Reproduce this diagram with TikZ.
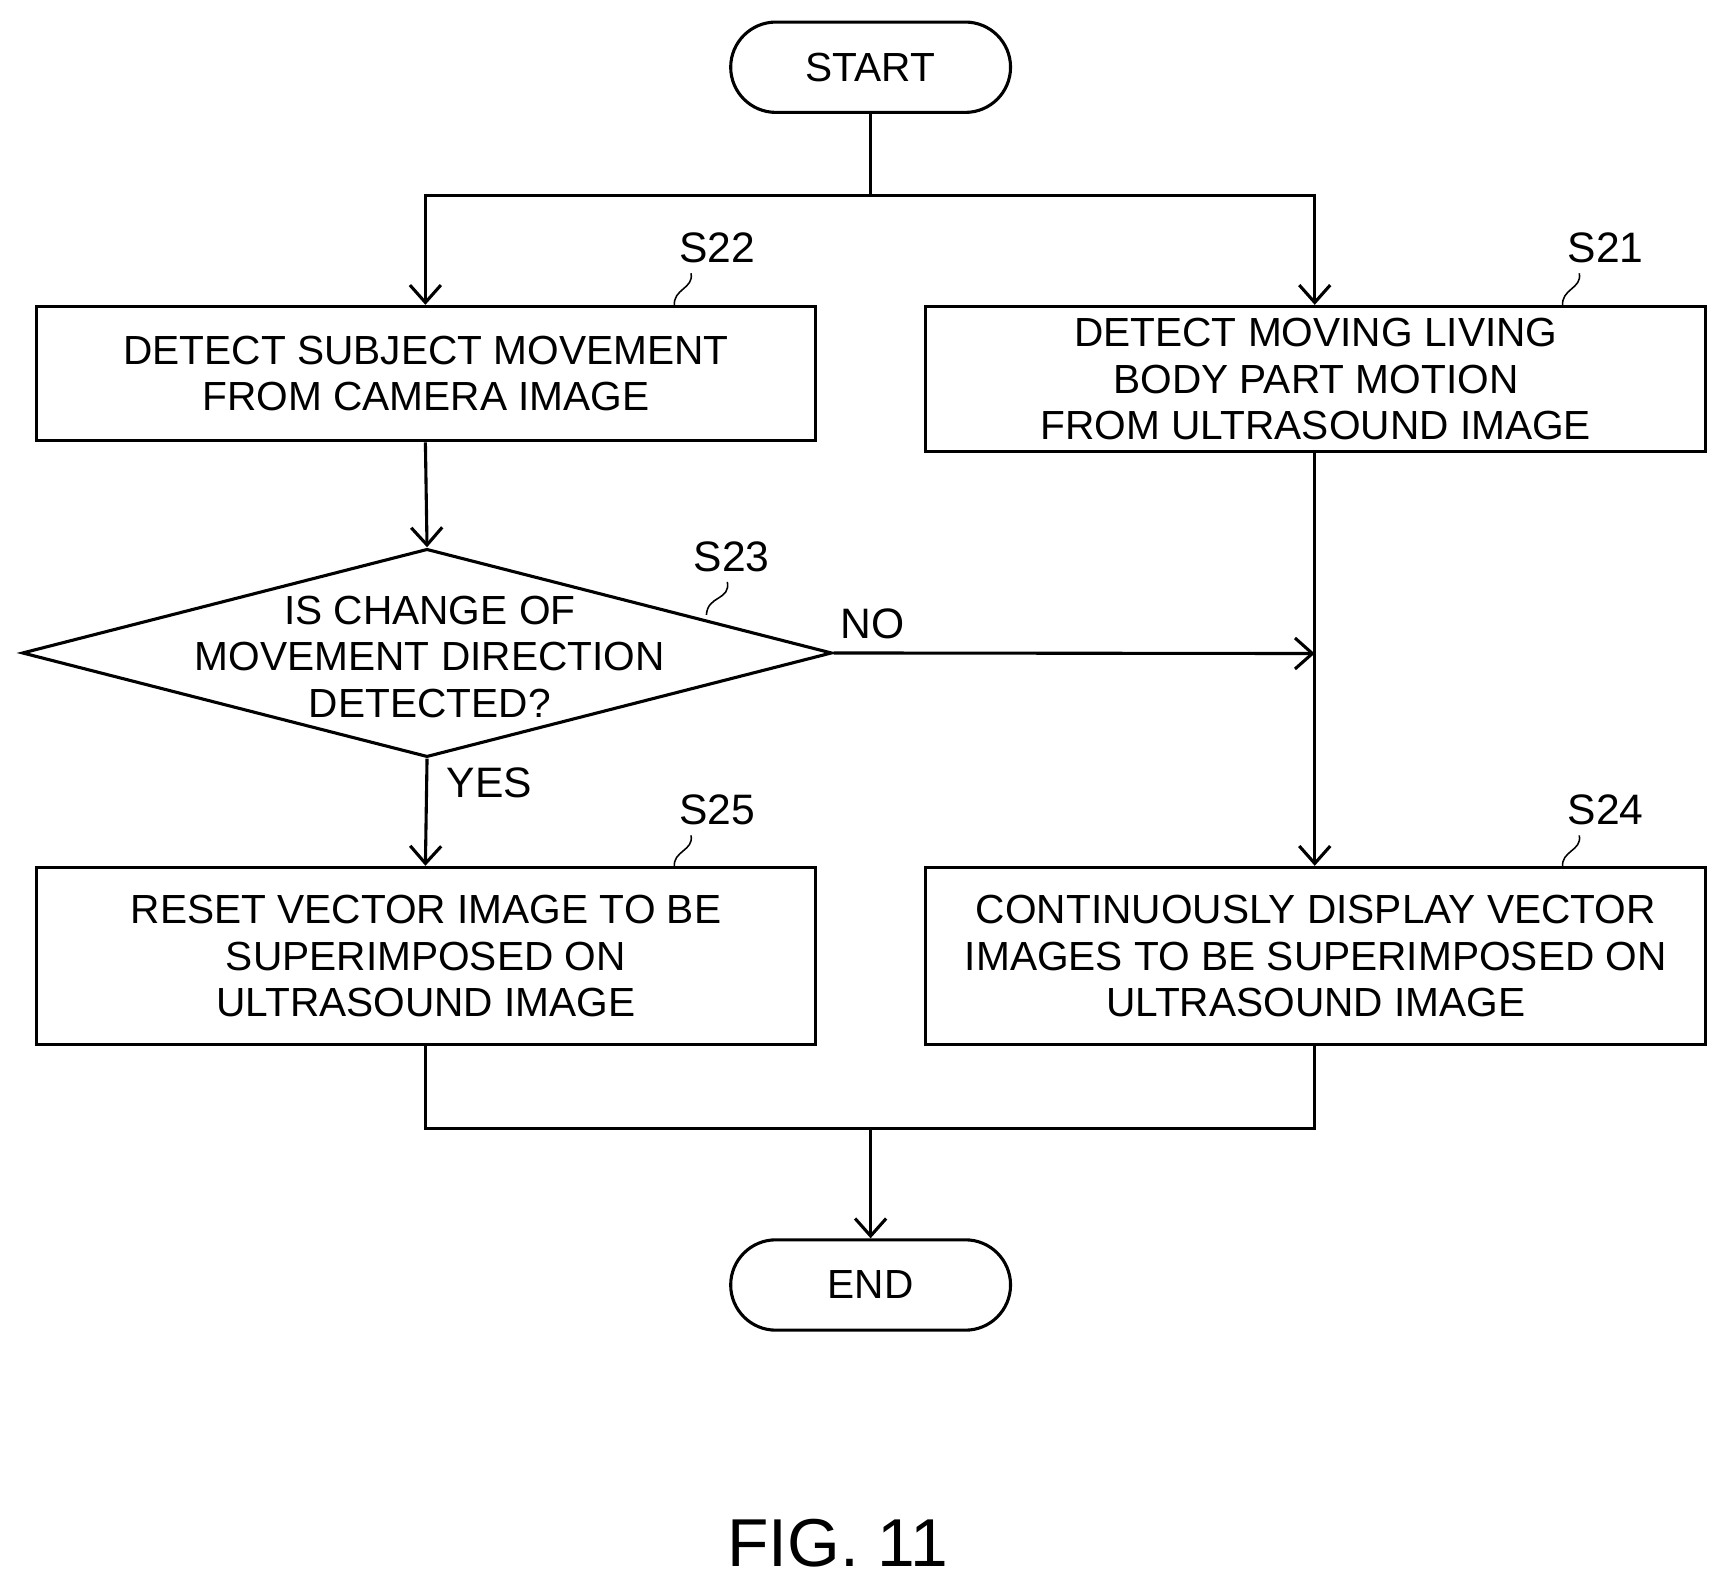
\documentclass[tikz,border=0pt]{standalone}
\usepackage{fontspec}
\setmainfont{Liberation Sans}
\usetikzlibrary{shapes.geometric,arrows.meta}
\begin{document}
\begin{tikzpicture}[x=0.02cm,y=-0.02cm,
  line width=1.6pt,
  >={Straight Barb[length=9pt,width=16pt,line width=1.6pt]},
  box/.style={draw,rectangle,inner sep=0pt,align=center,font=\fontsize{21}{24}\selectfont},
  pill/.style={draw,rectangle,rounded corners=0.82cm,minimum width=5.08cm,minimum height=1.64cm,font=\fontsize{21}{24}\selectfont},
  lab/.style={font=\fontsize{22}{24}\selectfont},
  lead/.style={line width=0.8pt}]
\useasboundingbox (0,0) rectangle (1568,1440);
\node[pill] (start) at (790,61) {START};
\node[pill] (end) at (790,1166) {END};
\node[box,minimum width=14.14cm,minimum height=2.44cm] (s22) at (386.5,339) {DETECT SUBJECT MOVEMENT\\FROM CAMERA IMAGE};
\node[box,minimum width=14.16cm,minimum height=2.64cm] (s21) at (1194,344) {DETECT MOVING LIVING\\BODY PART MOTION\\FROM ULTRASOUND IMAGE};
\node[draw,diamond,minimum width=14.7cm,minimum height=3.78cm,inner sep=0pt] (s23) at (387.5,592.5) {};
\node[box,draw=none] (s23t) at (390,596) {IS CHANGE OF\\MOVEMENT DIRECTION\\DETECTED?};
\node[box,minimum width=14.14cm,minimum height=3.22cm] (s25) at (386.5,867.5) {RESET VECTOR IMAGE TO BE\\SUPERIMPOSED ON\\ULTRASOUND IMAGE};
\node[box,minimum width=14.16cm,minimum height=3.22cm] (s24) at (1194,867.5) {CONTINUOUSLY DISPLAY VECTOR\\IMAGES TO BE SUPERIMPOSED ON\\ULTRASOUND IMAGE};
% labels
\node[lab] (l22) at (651,225) {S22};
\node[lab] (l21) at (1457,225) {S21};
\node[lab] (l23) at (664,505) {S23};
\node[lab] (l25) at (651,735) {S25};
\node[lab] (l24) at (1457,735) {S24};
\draw[lead] (627,248) .. controls (630,262) and (610,262) .. (612,278);
\draw[lead] (1433,248) .. controls (1436,262) and (1416,262) .. (1418,278);
\draw[lead] (660,528) .. controls (663,545) and (642,540) .. (641,558);
\draw[lead] (627,758) .. controls (630,772) and (610,772) .. (612,787);
\draw[lead] (1433,758) .. controls (1436,772) and (1416,772) .. (1418,787);
\node[lab] (no) at (792,566) {NO};
\node[lab] (yes) at (444,710) {YES};
% connectors
\coordinate (top) at (790,177);
\coordinate (topL) at (386,177);
\coordinate (topR) at (1193,177);
\coordinate (mer) at (1193,593);
\coordinate (botL) at (386,1024);
\coordinate (botR) at (1193,1024);
\coordinate (bot) at (790,1024);
\draw (start.south) -- (top);
\draw[->] (top) -- (topL) -- (s22.north -| topL);
\draw[->] (top) -- (topR) -- (s21.north -| topR);
\draw[->] (s22.south -| topL) -- (s23.north);
\draw[->] (s23.east) -- (mer);
\draw[->] (s21.south -| topR) -- (s24.north -| topR);
\draw[->] (s23.south) -- (s25.north -| topL);
\draw (s25.south -| botL) -- (botL) -- (botR) -- (s24.south -| botR);
\draw[->] (bot) -- (end.north);
\node[font=\fontsize{35}{40}\selectfont] (fig) at (760,1400) {FIG. 11};
\end{tikzpicture}
\end{document}
